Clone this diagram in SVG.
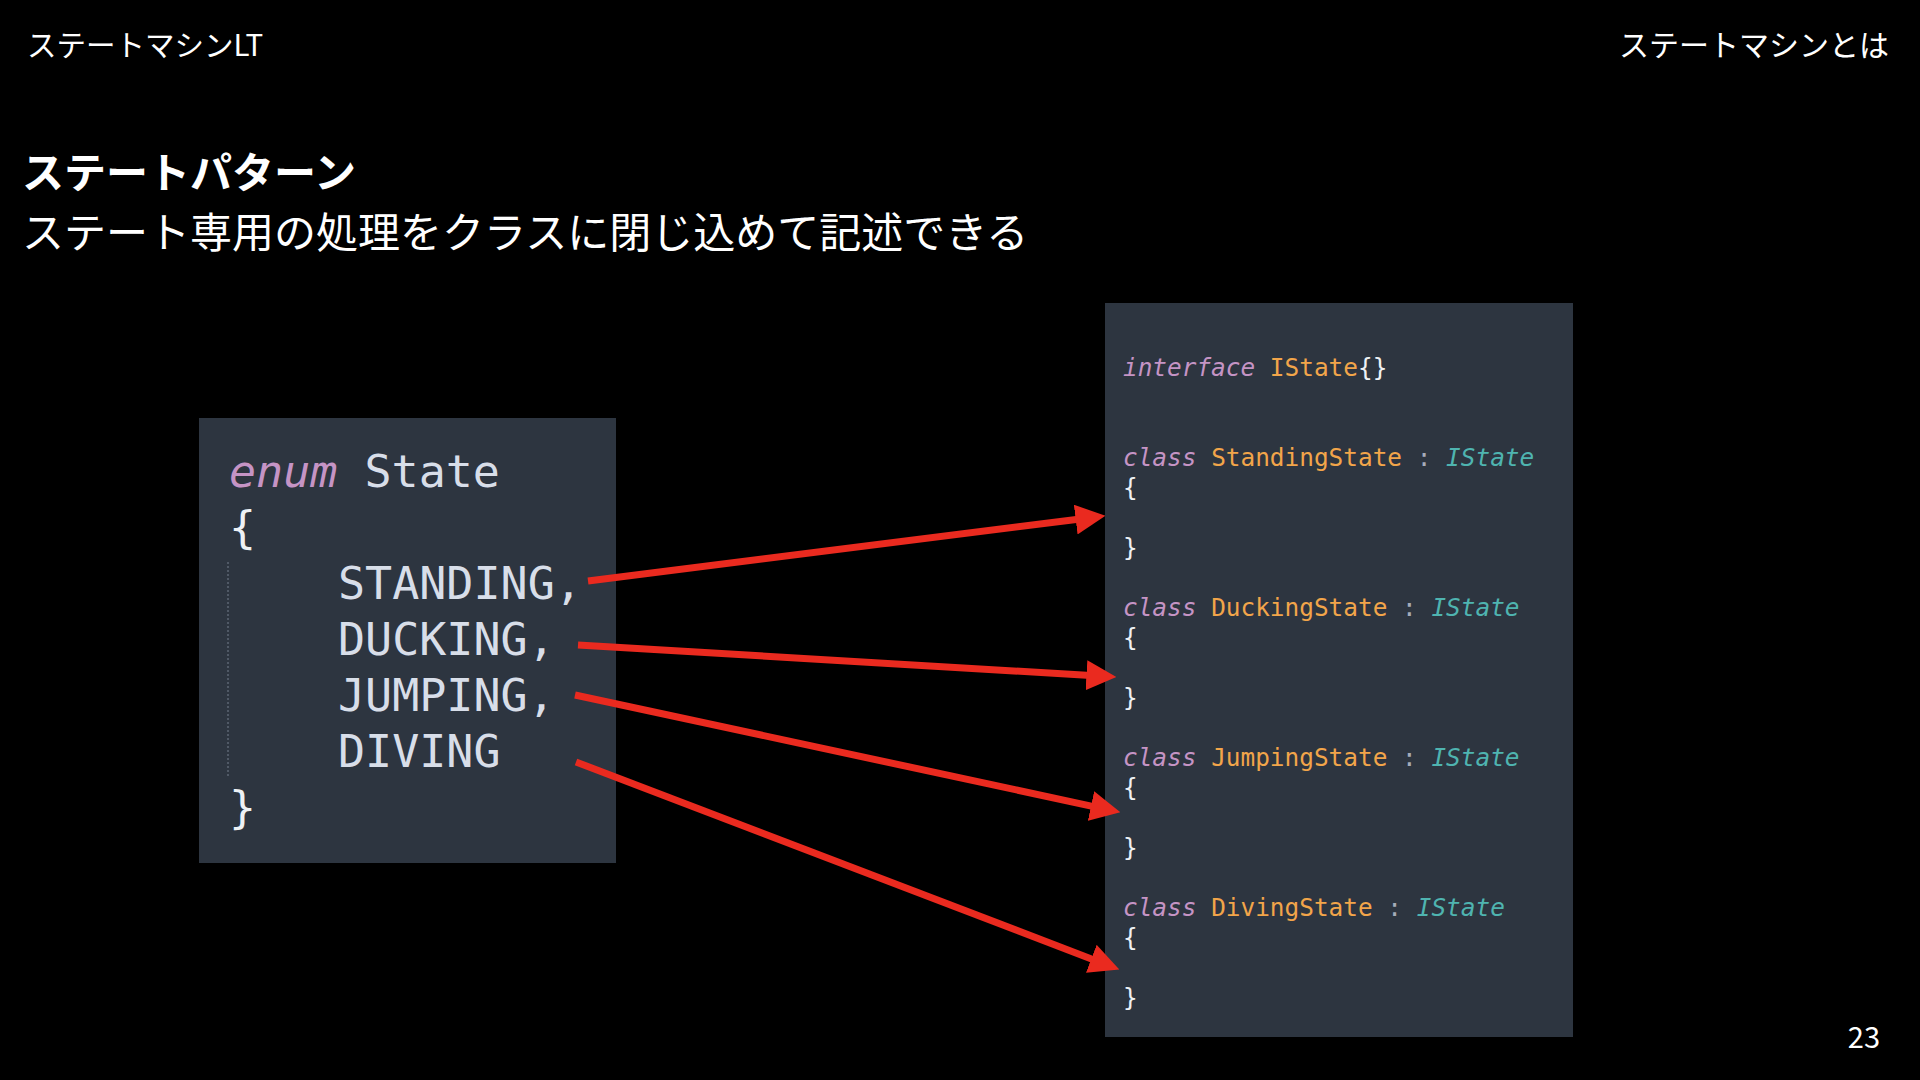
<svg xmlns="http://www.w3.org/2000/svg" width="1920" height="1080" viewBox="0 0 1920 1080">
<style>
.jp{font-family:"Noto Sans CJK JP","Noto Sans",sans-serif;fill:#ffffff}
.code{font-family:"DejaVu Sans Mono","Liberation Mono",monospace;white-space:pre}
.kw{fill:#c594c5;font-style:italic}
.nm{fill:#f2a54a}
.pl{fill:#d8dee9}
.br{fill:#eef1f5}
.cl{fill:#a6acb9}
.it{fill:#4fb4b0;font-style:italic}
.box{fill:#2d3540}
.arrow{stroke:#ea2a1f;stroke-width:7;fill:none;marker-end:url(#ah)}
</style>
<defs>
<marker id="ah" markerUnits="userSpaceOnUse" markerWidth="30" markerHeight="30" viewBox="0 0 28 28" refX="8" refY="14" orient="auto">
<path d="M0,0 L28,14 L0,28 z" fill="#ea2a1f"/>
</marker>
</defs>
<rect width="1920" height="1080" fill="#000"/>
<g id="header">
<text class="jp" x="27" y="56" font-size="29.5">ステートマシンLT</text>
<text class="jp" x="1889" y="56" font-size="30" text-anchor="end">ステートマシンとは</text>
<text class="jp" x="22" y="188" font-size="42" font-weight="bold">ステートパターン</text>
<text class="jp" x="22" y="248" font-size="42">ステート専用の処理をクラスに閉じ込めて記述できる</text>
<text class="jp" x="1880" y="1048" font-size="29" text-anchor="end">23</text>
</g>
<g id="enum-box">
<rect class="box" x="199" y="418" width="417" height="445"/>
<line x1="228" y1="562" x2="228" y2="777" stroke="#5c6573" stroke-width="1.5" stroke-dasharray="2 2"/>
<text class="code" font-size="45">
<tspan x="229" y="487"><tspan class="kw">enum</tspan><tspan class="pl"> State</tspan></tspan>
<tspan class="br" x="229" y="543">{</tspan>
<tspan class="pl" x="338" y="599">STANDING,</tspan>
<tspan class="pl" x="338" y="655">DUCKING,</tspan>
<tspan class="pl" x="338" y="711">JUMPING,</tspan>
<tspan class="pl" x="338" y="767">DIVING</tspan>
<tspan class="br" x="229" y="823">}</tspan>
</text>
</g>
<g id="class-box">
<rect class="box" x="1105" y="303" width="468" height="734"/>
<text class="code" font-size="24.4">
<tspan x="1123" y="376"><tspan class="kw">interface</tspan> <tspan class="nm">IState</tspan><tspan class="br">{}</tspan></tspan>
<tspan x="1123" y="466"><tspan class="kw">class</tspan> <tspan class="nm">StandingState</tspan> <tspan class="cl">:</tspan> <tspan class="it">IState</tspan></tspan>
<tspan class="br" x="1123" y="496">{</tspan>
<tspan class="br" x="1123" y="556">}</tspan>
<tspan x="1123" y="616"><tspan class="kw">class</tspan> <tspan class="nm">DuckingState</tspan> <tspan class="cl">:</tspan> <tspan class="it">IState</tspan></tspan>
<tspan class="br" x="1123" y="646">{</tspan>
<tspan class="br" x="1123" y="706">}</tspan>
<tspan x="1123" y="766"><tspan class="kw">class</tspan> <tspan class="nm">JumpingState</tspan> <tspan class="cl">:</tspan> <tspan class="it">IState</tspan></tspan>
<tspan class="br" x="1123" y="796">{</tspan>
<tspan class="br" x="1123" y="856">}</tspan>
<tspan x="1123" y="916"><tspan class="kw">class</tspan> <tspan class="nm">DivingState</tspan> <tspan class="cl">:</tspan> <tspan class="it">IState</tspan></tspan>
<tspan class="br" x="1123" y="946">{</tspan>
<tspan class="br" x="1123" y="1006">}</tspan>
</text>
</g>
<g id="connectors">
<line class="arrow" x1="588" y1="581" x2="1084.2" y2="518.5"/>
<line class="arrow" x1="578" y1="645" x2="1095.0" y2="675.8"/>
<line class="arrow" x1="575" y1="695" x2="1099.4" y2="807.8"/>
<line class="arrow" x1="576" y1="762" x2="1099.3" y2="961.9"/>
</g>
</svg>
